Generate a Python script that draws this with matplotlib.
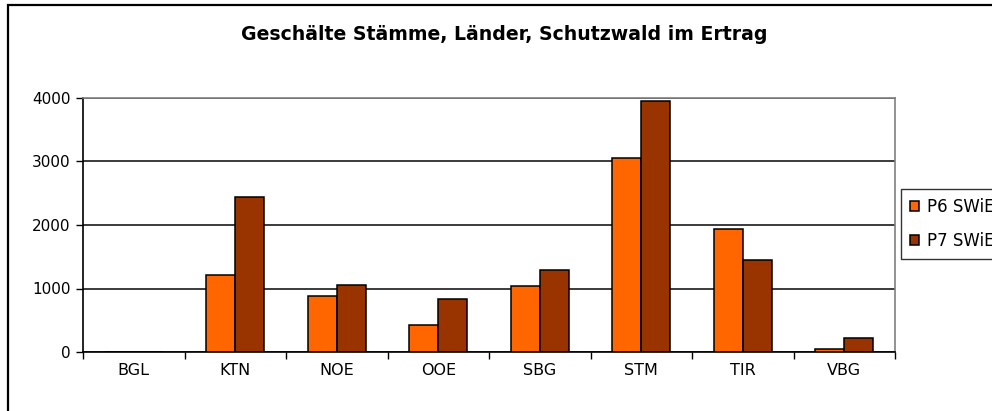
import matplotlib
matplotlib.use("Agg")
import matplotlib.pyplot as plt
from matplotlib.patches import Rectangle
import numpy as np

plt.rcParams['font.family'] = ['DejaVu Sans']

categories = ["BGL", "KTN", "NOE", "OOE", "SBG", "STM", "TIR", "VBG"]
p6 = [0, 1210, 885, 430, 1045, 3060, 1935, 55]
p7 = [0, 2440, 1050, 835, 1290, 3945, 1450, 215]
series_labels = ["P6 SWiE", "P7 SWiE"]
yticks = [0, 1000, 2000, 3000, 4000]
title = "Geschälte Stämme, Länder, Schutzwald im Ertrag"

W, H = 992, 411
fig = plt.figure(figsize=(W/100, H/100), dpi=100)
fig.patch.set_facecolor('white')

# outer chart frame
fig.patches.append(Rectangle((8/W, -0.2), 2.0, (H-5)/H + 0.2, transform=fig.transFigure,
                             fill=False, edgecolor='black', linewidth=1.6))

ax = fig.add_axes([83/W, 1-352/H, (895-83)/W, (352-98)/H])
x = np.arange(len(categories))
bw = 0.285
ax.bar(x - bw/2, p6, bw, color='#FF6600', edgecolor='black', linewidth=1.1, label=series_labels[0], zorder=3)
ax.bar(x + bw/2, p7, bw, color='#993300', edgecolor='black', linewidth=1.1, label=series_labels[1], zorder=3)

ax.set_xlim(-0.5, len(categories)-0.5)
ax.set_ylim(0, 4000)
ax.set_yticks(yticks)
ax.set_yticklabels([str(v) for v in yticks], fontsize=11)
ax.yaxis.grid(True, color='#1a1a1a', linewidth=1.2, zorder=0)
ax.set_axisbelow(True)

ax.set_xticks(x)
ax.set_xticklabels(categories, fontsize=11.5)
ax.tick_params(axis='x', which='major', length=0, pad=8)
ax.set_xticks(np.arange(-0.5, len(categories)), minor=True)
ax.tick_params(axis='x', which='minor', length=5, width=1.0, direction='out')
ax.tick_params(axis='y', length=5, width=1.0, direction='out', pad=4)

for s in ['left', 'bottom']:
    ax.spines[s].set_color('black')
    ax.spines[s].set_linewidth(1.2)
for s in ['top', 'right']:
    ax.spines[s].set_color('#808080')
    ax.spines[s].set_linewidth(1.2)

fig.text(504/W, 1-35/H, title, ha='center', va='center', fontsize=13.6, fontweight='bold')

leg = fig.legend(loc='upper left', bbox_to_anchor=(901/W, 1-189/H), bbox_transform=fig.transFigure,
                 fontsize=12, frameon=True, fancybox=False, edgecolor='black',
                 handlelength=0.55, handleheight=0.55, handletextpad=0.45, borderpad=0.55,
                 labelspacing=0.95, borderaxespad=0)
leg.get_frame().set_linewidth(1.0)

fig.savefig("out.png", dpi=100)
